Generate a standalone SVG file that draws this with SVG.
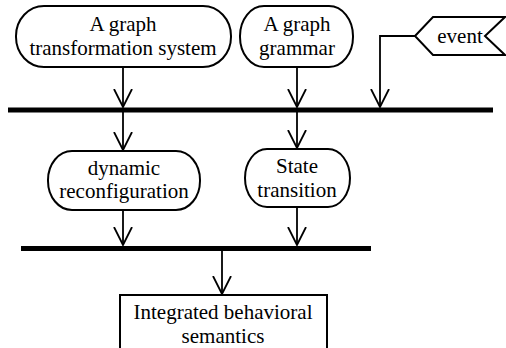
<svg xmlns="http://www.w3.org/2000/svg" width="506" height="348" viewBox="0 0 506 348">
  <style>
    .shape { fill: #fff; stroke: #000; stroke-width: 2; }
    .bar { fill: #000; }
    .flow { fill: none; stroke: #000; stroke-width: 1.8; }
  </style>
  <defs>
    <marker id="open" viewBox="0 0 20 20" refX="18" refY="10" markerWidth="20" markerHeight="20" markerUnits="userSpaceOnUse" orient="auto">
      <path d="M0,1 L18,10 L0,19" fill="none" stroke="#000" stroke-width="1.8"/>
    </marker>
  </defs>

  <!-- synchronisation bars -->
  <rect id="fork-bar" class="bar" x="8" y="107.5" width="485" height="5"/>
  <rect id="join-bar" class="bar" x="21" y="246" width="350" height="5"/>

  <g font-family="Liberation Serif, DejaVu Serif, serif" font-size="21" text-anchor="middle" fill="#000">
    <g id="gts">
      <rect class="shape" x="16" y="6" width="215" height="61" rx="28" ry="30"/>
      <text x="123" y="31">A graph</text>
      <text x="123" y="55">transformation system</text>
    </g>

    <g id="grammar">
      <rect class="shape" x="240" y="6" width="113" height="61" rx="24" ry="30"/>
      <text x="297" y="31">A graph</text>
      <text x="297" y="55">grammar</text>
    </g>

    <g id="event">
      <path class="shape" d="M415,36 L433,17 L505,17 L485,36 L505,55 L433,55 Z"/>
      <text x="460" y="43">event</text>
    </g>

    <g id="reconfig">
      <rect class="shape" x="48" y="151" width="152" height="59" rx="24" ry="29"/>
      <text x="124" y="175">dynamic</text>
      <text x="124" y="198">reconfiguration</text>
    </g>

    <g id="state">
      <rect class="shape" x="245" y="149" width="105" height="58" rx="22" ry="29"/>
      <text x="297" y="173">State</text>
      <text x="297" y="197">transition</text>
    </g>

    <g id="semantics">
      <rect class="shape" x="120" y="295" width="207" height="60"/>
      <text x="223" y="319">Integrated behavioral</text>
      <text x="223" y="343">semantics</text>
    </g>
  </g>

  <g id="connectors">
    <path class="flow" d="M123,67 V107" marker-end="url(#open)"/>
    <path class="flow" d="M297,67 V107" marker-end="url(#open)"/>
    <path class="flow" d="M415,36 H380 V107" marker-end="url(#open)"/>
    <path class="flow" d="M123,112 V150" marker-end="url(#open)"/>
    <path class="flow" d="M297,112 V148" marker-end="url(#open)"/>
    <path class="flow" d="M123,210 V245" marker-end="url(#open)"/>
    <path class="flow" d="M297,207 V245" marker-end="url(#open)"/>
    <path class="flow" d="M222,251 V294" marker-end="url(#open)"/>
  </g>
</svg>
